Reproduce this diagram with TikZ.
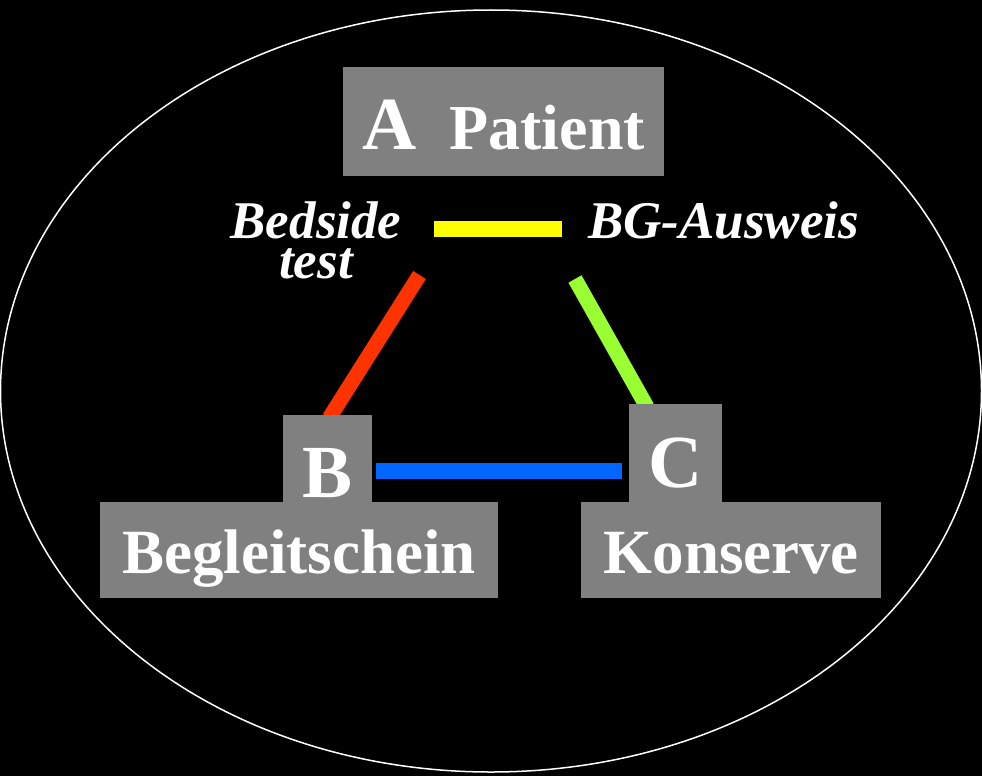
\documentclass[tikz,border=0pt]{standalone}
\usepackage{fontspec}
\setmainfont{Liberation Serif}
\usepackage{xcolor}
\usepackage{tikz}
\usetikzlibrary{positioning,calc,backgrounds}
\definecolor{boxgrey}{HTML}{808080}
\definecolor{linkred}{HTML}{FF3300}
\definecolor{linkgreen}{HTML}{99FF33}
\definecolor{linkyellow}{HTML}{FFFF00}
\definecolor{linkblue}{HTML}{0066FF}
\tikzset{
    tri box/.style={
        fill=boxgrey,
        text=white,
        inner sep=0pt,
        anchor=north west,
        font=\bfseries
    },
    tri letter/.style={tri box, font=\bfseries\fontsize{75}{80}\selectfont},
    tri name/.style={tri box, font=\bfseries\fontsize{63}{70}\selectfont,
        text height=71pt, text depth=25pt},
    tri note/.style={text=white, inner sep=0pt, align=center,
        font=\bfseries\itshape\fontsize{53}{40}\selectfont},
    tri link/.style={line width=15pt, line cap=butt}
}

\begin{document}
\begin{tikzpicture}[x=1pt, y=-1pt]
\useasboundingbox (0,0) rectangle (982,776);
\begin{scope}[on background layer]
\fill[black] (0,0) rectangle (982,776);
\end{scope}
\draw[white, line width=1.5pt] (491,391) ellipse [x radius=490.5pt, y radius=381pt];

% A: patient
\node[tri box, minimum width=321pt, text height=82pt, text depth=27pt] (a) at (343,67)
    {{\fontsize{75}{80}\selectfont A}\hspace{33pt}{\fontsize{64}{70}\selectfont Patient}};
\node[tri note, anchor=base] (bedside) at (316,278) {Bedside\\test};
\node[tri note, anchor=base west] (bgid) at (588,238) {BG-Ausweis};

% B: Begleitschein
\node[tri letter, minimum width=89pt, text height=82pt, text depth=5pt] (b) at (283,415) {B};
\node[tri name, minimum width=398pt] (bname) at (100,502) {Begleitschein};

% C: Konserve
\node[tri letter, minimum width=93pt, text height=83pt, text depth=15pt] (c) at (629,404) {C};
\node[tri name, minimum width=300pt] (cname) at (581,502) {Konserve};

\coordinate (ylwl) at (434,229);
\coordinate (ylwr) at (562,229);
\coordinate (redtop) at (419.5,275);
\coordinate (greentop) at (575,279);
\begin{scope}[on background layer]
\draw[tri link, line width=16pt, linkyellow] (ylwl) -- (ylwr);
\draw[tri link, linkred] (redtop) -- ($(b.north)+(1.5,3)$);
\draw[tri link, linkgreen] (greentop) -- ($(c.north west)+(18,3)$);
\draw[tri link, line width=16pt, linkblue] ($(b.south east)+(4,-31)$) -- ($(c.south west)+(-7,-31)$);
\end{scope}
\end{tikzpicture}
\end{document}
